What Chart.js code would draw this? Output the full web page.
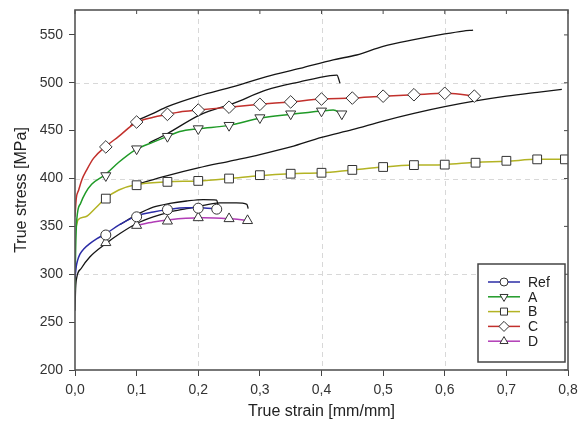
<!DOCTYPE html>
<html>
<head>
<meta charset="utf-8">
<title>True stress - true strain</title>
<script src="https://cdn.jsdelivr.net/npm/chart.js@4.4.1/dist/chart.umd.min.js"></script>
<style>
  html, body { margin: 0; padding: 0; background: #fff; }
  #wrap { width: 582px; height: 426px; }
</style>
</head>
<body>
<div id="wrap"><canvas id="chart"></canvas></div>
<script>
// measured curves (strain in mm/mm, stress in MPa)
const refStrain = [0, 0.002, 0.004, 0.008, 0.015, 0.024, 0.035, 0.049, 0.073, 0.1, 0.127, 0.15, 0.18, 0.2, 0.215, 0.23]
const refStress = [296, 308, 314, 321, 327, 332, 337, 342, 352, 361, 365, 367.5, 369.5, 369.5, 369, 368.5]
const refMarkStrain = [0.05, 0.1, 0.15, 0.2, 0.23]
const refMarkStress = [341, 360, 367.5, 369, 368]

const aStrain = [0, 0.001, 0.003, 0.009, 0.017, 0.027, 0.049, 0.071, 0.098, 0.127, 0.15, 0.17, 0.2, 0.25, 0.3, 0.35, 0.4, 0.419, 0.433]
const aStress = [283, 325, 358, 374, 385, 394, 404, 417, 430, 438, 444, 449, 452, 455.5, 463, 467, 470.5, 471.5, 467.5]
const aMarkStrain = [0.05, 0.1, 0.15, 0.2, 0.25, 0.3, 0.35, 0.4, 0.433]
const aMarkStress = [403, 431, 444, 452, 455.5, 463.5, 467.5, 470.5, 467.5]

const bStrain = [0.002, 0.005, 0.017, 0.033, 0.049, 0.071, 0.098, 0.15, 0.2, 0.25, 0.3, 0.35, 0.4, 0.45, 0.5, 0.55, 0.6, 0.65, 0.7, 0.75, 0.795]
const bStress = [350, 357, 360, 369, 379, 388, 393.5, 396.5, 397.5, 400, 403, 405, 406, 409, 412, 414, 414.5, 417, 418, 420, 420]
const bMarkStrain = [0.05, 0.1, 0.15, 0.2, 0.25, 0.3, 0.35, 0.4, 0.45, 0.5, 0.55, 0.6, 0.65, 0.7, 0.75, 0.795]
const bMarkStress = [379, 393, 396.5, 397.5, 400, 403.5, 405, 406, 409, 412, 414, 414.5, 416.5, 418.5, 420, 420]

const cStrain = [0, 0.002, 0.006, 0.011, 0.019, 0.03, 0.049, 0.071, 0.098, 0.127, 0.15, 0.17, 0.2, 0.25, 0.3, 0.35, 0.4, 0.45, 0.5, 0.55, 0.6, 0.625, 0.648]
const cStress = [360, 379, 388, 398.5, 409, 421, 433, 444, 458, 464, 467, 469.5, 471.5, 474.5, 477.5, 480, 483, 484, 486, 487.5, 489, 488, 486]
const cMarkStrain = [0.05, 0.1, 0.15, 0.2, 0.25, 0.3, 0.35, 0.4, 0.45, 0.5, 0.55, 0.6, 0.648]
const cMarkStress = [433, 459, 467, 471.5, 474.5, 477.5, 480, 483, 484, 486, 487.5, 489, 486]

const dStrain = [0.1, 0.127, 0.154, 0.18, 0.208, 0.25, 0.27, 0.281]
const dStress = [351, 354.5, 357, 358.5, 359, 358, 357, 355.5]
const dMarkStrain = [0.05, 0.1, 0.15, 0.2, 0.25, 0.28]
const dMarkStress = [333, 351, 355.5, 359, 358, 356]

// black companion curves
const simCStrain = [0.09, 0.1, 0.127, 0.15, 0.2, 0.257, 0.311, 0.365, 0.419, 0.457, 0.5, 0.55, 0.6, 0.63, 0.646]
const simCStress = [455, 460, 468, 475, 486, 496, 506.5, 515, 524, 529, 538, 545, 551, 554, 555]
const simAStrain = [0.12, 0.15, 0.203, 0.257, 0.311, 0.365, 0.414, 0.425, 0.43]
const simAStress = [437, 447, 466.5, 478.5, 492.5, 501, 507.5, 508, 499.5]
const simBStrain = [0.1, 0.15, 0.2, 0.25, 0.3, 0.35, 0.4, 0.45, 0.5, 0.55, 0.6, 0.65, 0.7, 0.75, 0.79]
const simBStress = [394, 403, 411, 418, 425, 433, 443, 451, 460, 468, 475, 481, 486, 490, 493]
const simRefStrain = [0.073, 0.1, 0.127, 0.154, 0.181, 0.208, 0.23, 0.232]
const simRefStress = [352, 362, 370, 374, 376.5, 378, 377.5, 372]
const simDStrain = [0, 0.001, 0.003, 0.01, 0.024, 0.05, 0.073, 0.1, 0.127, 0.154, 0.181, 0.208, 0.235, 0.262, 0.279, 0.281]
const simDStress = [262, 285, 297, 306, 318, 332, 342.5, 353, 360, 365, 368.5, 372, 374.5, 374.5, 373, 368.5]

const xTickValues = [0, 0.1, 0.2, 0.3, 0.4, 0.5, 0.6, 0.7, 0.8]
const yTickValues = [200, 250, 300, 350, 400, 450, 500, 550]
const xGridValues = [0.2, 0.4, 0.6]
const yGridValues = [300, 400, 500]

const FONT = 'Liberation Sans, Arial, sans-serif'
Chart.defaults.font.family = FONT

const pts = (xs, ys) => xs.map((x, i) => ({ x, y: ys[i] }))

const series = [
  { label: 'Ref', color: '#2b2ca6', style: 'circle', rot: 0, r: 5, line: pts(refStrain, refStress), marks: pts(refMarkStrain, refMarkStress) },
  { label: 'A', color: '#1f9a27', style: 'triangle', rot: 180, r: 5.8, line: pts(aStrain, aStress), marks: pts(aMarkStrain, aMarkStress) },
  { label: 'B', color: '#b3b324', style: 'rect', rot: 0, r: 6.2, line: pts(bStrain, bStress), marks: pts(bMarkStrain, bMarkStress) },
  { label: 'C', color: '#c2302c', style: 'rectRot', rot: 0, r: 6.3, line: pts(cStrain, cStress), marks: pts(cMarkStrain, cMarkStress) },
  { label: 'D', color: '#b13cb6', style: 'triangle', rot: 0, r: 5.8, line: pts(dStrain, dStress), marks: pts(dMarkStrain, dMarkStress) },
]
const sims = [
  pts(simCStrain, simCStress),
  pts(simAStrain, simAStress),
  pts(simBStrain, simBStress),
  pts(simRefStrain, simRefStress),
  pts(simDStrain, simDStress),
]

const datasets = []
sims.forEach((d) => datasets.push({
  data: d, showLine: true, borderColor: '#151515', borderWidth: 1.3,
  pointRadius: 0, cubicInterpolationMode: 'monotone', order: 3,
}))
series.forEach((s) => {
  datasets.push({
    data: s.line, showLine: true, borderColor: s.color, borderWidth: 1.5,
    pointRadius: 0, cubicInterpolationMode: 'monotone', order: 2,
  })
  datasets.push({
    data: s.marks, showLine: false, pointStyle: s.style, rotation: s.rot,
    pointRadius: s.r, pointBackgroundColor: '#fff', pointBorderColor: '#333',
    pointBorderWidth: 1, order: 1,
  })
})

// dashed grid, frame and inner ticks
const framePlugin = {
  id: 'frame',
  beforeDatasetsDraw(chart) {
    const { ctx, chartArea: a, scales: { x, y } } = chart
    ctx.save()
    ctx.strokeStyle = '#d8d8d8'
    ctx.lineWidth = 1
    ctx.setLineDash([5, 4])
    xGridValues.forEach((v) => {
      const px = Math.round(x.getPixelForValue(v)) + 0.5
      ctx.beginPath(); ctx.moveTo(px, a.top); ctx.lineTo(px, a.bottom); ctx.stroke()
    })
    yGridValues.forEach((v) => {
      const py = Math.round(y.getPixelForValue(v)) + 0.5
      ctx.beginPath(); ctx.moveTo(a.left, py); ctx.lineTo(a.right, py); ctx.stroke()
    })
    ctx.restore()
  },
  afterDatasetsDraw(chart) {
    const { ctx, chartArea: a, scales: { x, y } } = chart
    ctx.save()
    ctx.strokeStyle = '#4a4a4a'
    ctx.lineWidth = 1
    xTickValues.forEach((v) => {
      const px = x.getPixelForValue(v)
      ctx.beginPath(); ctx.moveTo(px, a.top); ctx.lineTo(px, a.top + 4); ctx.stroke()
    })
    yTickValues.forEach((v) => {
      const py = y.getPixelForValue(v)
      ctx.beginPath(); ctx.moveTo(a.right, py); ctx.lineTo(a.right - 4, py); ctx.stroke()
    })
    ctx.lineWidth = 1.6
    ctx.strokeStyle = '#555'
    ctx.strokeRect(a.left, a.top, a.right - a.left, a.bottom - a.top)
    ctx.restore()
  },
}

// boxed legend: short coloured line with its marker in the middle
const legendPlugin = {
  id: 'boxLegend',
  afterDraw(chart) {
    const { ctx, chartArea: a } = chart
    const w = 87, h = 98
    const bx = a.right - 3 - w, by = a.bottom - 8 - h
    ctx.save()
    ctx.fillStyle = '#fff'
    ctx.fillRect(bx, by, w, h)
    ctx.strokeStyle = '#444'
    ctx.lineWidth = 1.5
    ctx.strokeRect(bx, by, w, h)
    ctx.font = '14px ' + FONT
    ctx.textBaseline = 'middle'
    series.forEach((s, i) => {
      const cy = by + 18 + i * 14.8
      ctx.strokeStyle = s.color
      ctx.lineWidth = 1.5
      ctx.beginPath(); ctx.moveTo(bx + 10, cy); ctx.lineTo(bx + 42, cy); ctx.stroke()
      ctx.fillStyle = '#fff'
      ctx.strokeStyle = '#333'
      ctx.lineWidth = 1
      Chart.helpers.drawPoint(ctx, { pointStyle: s.style, rotation: s.rot, radius: s.r * 0.8, borderWidth: 1 }, bx + 26, cy)
      ctx.fillStyle = '#222'
      ctx.fillText(s.label, bx + 50, cy + 1)
    })
    ctx.restore()
  },
}

new Chart(document.getElementById('chart'), {
  type: 'scatter',
  data: { datasets },
  plugins: [framePlugin, legendPlugin],
  options: {
    responsive: true,
    maintainAspectRatio: false,
    animation: false,
    layout: { padding: { top: 10, right: 14, left: 0, bottom: 0 } },
    plugins: { legend: { display: false }, tooltip: { enabled: false } },
    scales: {
      x: {
        type: 'linear', min: 0, max: 0.8,
        afterBuildTicks: (s) => { s.ticks = xTickValues.map((v) => ({ value: v })) },
        afterFit: (s) => { s.height = 56; s.paddingLeft = 0; s.paddingRight = 0 },
        border: { display: false },
        grid: { drawOnChartArea: false, drawTicks: true, tickLength: 6, tickColor: '#444', tickWidth: 1 },
        ticks: {
          padding: 6, color: '#333', font: { size: 14 }, maxRotation: 0,
          callback: (v) => Number(v).toFixed(1).replace('.', ','),
        },
        title: { display: true, text: 'True strain [mm/mm]', color: '#222', font: { size: 16 }, padding: { top: 0, bottom: 5 } },
      },
      y: {
        type: 'linear', min: 200, max: 576,
        afterBuildTicks: (s) => { s.ticks = yTickValues.map((v) => ({ value: v })) },
        afterFit: (s) => { s.width = 75; s.paddingTop = 0; s.paddingBottom = 0 },
        border: { display: false },
        grid: { drawOnChartArea: false, drawTicks: true, tickLength: 6, tickColor: '#444', tickWidth: 1 },
        ticks: { padding: 6, color: '#333', font: { size: 14 } },
        title: { display: true, text: 'True stress [MPa]', color: '#222', font: { size: 16 }, padding: { top: 12, bottom: 0 } },
      },
    },
  },
})
</script>
</body>
</html>
